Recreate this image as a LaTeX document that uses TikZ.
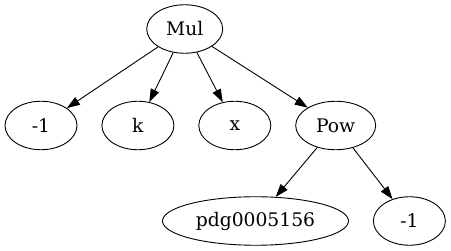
\documentclass[tikz,border=0pt]{standalone}
\usepackage{fontspec}
\setmainfont{DejaVu Serif}
\usetikzlibrary{shapes.geometric, arrows.meta, positioning}

\begin{document}
\begin{tikzpicture}[
    x=1pt, y=1pt,
    node distance=47pt and 24pt,
    every node/.style={
        draw, ellipse, minimum width=72pt, minimum height=48.5pt,
        inner sep=0pt, font=\fontsize{18.7pt}{22pt}\selectfont, line width=0.9pt
    },
    edge/.style={-{Triangle[length=13pt, width=9pt]}, line width=0.9pt}
]
    \useasboundingbox (0,0) rectangle (451,-251);

    \node[minimum width=76pt] (mul) at (184.7,-29) {Mul};
    \node (mone) at (41,-125.5) {-1};
    \node[right=of mone] (k) {k};
    \node[right=of k] (x) {x};
    \node[minimum width=80pt, right=of x] (pow) {Pow};
    \node[minimum width=186pt] (pdg) at (255.5,-221) {pdg0005156};
    \node[right=of pdg] (mtwo) {-1};

    \draw[edge] (mul) -- (mone);
    \draw[edge] (mul) -- (k);
    \draw[edge] (mul) -- (x);
    \draw[edge] (mul) -- (pow);
    \draw[edge] (pow) -- (pdg);
    \draw[edge] (pow) -- (mtwo);
\end{tikzpicture}
\end{document}
